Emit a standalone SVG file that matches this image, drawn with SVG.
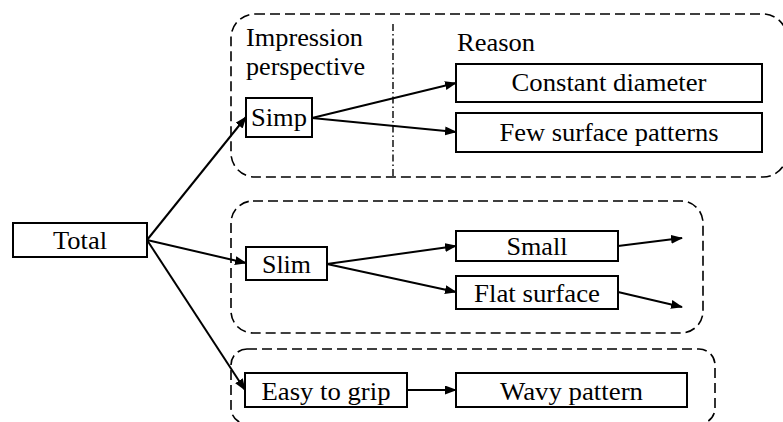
<svg xmlns="http://www.w3.org/2000/svg" width="783" height="422" viewBox="0 0 783 422" font-family="'Liberation Serif', Tinos, 'Times New Roman', Times, 'Nimbus Roman', 'Noto Serif', 'DejaVu Serif', serif">
<style>
text{font-family:'Liberation Serif',Tinos,'Times New Roman',Times,'Nimbus Roman','Noto Serif','DejaVu Serif',serif;font-size:26px;fill:#000}
.c{text-anchor:middle}
.box{fill:#fff;stroke:#000;stroke-width:2}
.grp{fill:none;stroke:#000;stroke-width:1.6;stroke-dasharray:10 5}
.dd{fill:none;stroke:#000;stroke-width:1.4;stroke-dasharray:7 3 1.5 3}
.ln{fill:none;stroke:#000;stroke-width:2;marker-end:url(#ah)}
</style>
<defs>
<marker id="ah" markerUnits="userSpaceOnUse" markerWidth="12" markerHeight="10" refX="11" refY="4.5" orient="auto">
<path d="M0,0 L12,4.5 L0,9 Z" fill="#000"/>
</marker>
</defs>
<rect id="background" width="783" height="422" fill="#fff"/>
<g id="groups">
<rect id="group-simp" class="grp" x="231" y="14" width="556" height="163" rx="24"/>
<line id="divider" class="dd" x1="393" y1="24" x2="393" y2="177"/>
<text id="label-impression" x="246" y="46" textLength="117" lengthAdjust="spacingAndGlyphs">Impression</text>
<text id="label-perspective" x="246" y="75" textLength="119" lengthAdjust="spacingAndGlyphs">perspective</text>
<text id="label-reason" x="457" y="51" textLength="78" lengthAdjust="spacingAndGlyphs">Reason</text>
<rect id="group-slim" class="grp" x="231" y="201" width="472" height="132" rx="22"/>
<rect id="group-grip" class="grp" x="231" y="349" width="484" height="75" rx="16"/>
</g>
<g id="connectors">
<line class="ln" x1="147" y1="240" x2="246" y2="117"/>
<line class="ln" x1="147" y1="240" x2="246" y2="263"/>
<line class="ln" x1="147" y1="240" x2="245" y2="390"/>
<line class="ln" x1="312" y1="118" x2="456" y2="83"/>
<line class="ln" x1="312" y1="118" x2="456" y2="132"/>
<line class="ln" x1="327" y1="264" x2="456" y2="246"/>
<line class="ln" x1="327" y1="264" x2="456" y2="292"/>
<line class="ln" x1="618" y1="246" x2="682" y2="238"/>
<line class="ln" x1="618" y1="292" x2="682" y2="307"/>
<line class="ln" x1="407" y1="390" x2="456" y2="390"/>
</g>
<g id="node-total"><rect class="box" x="13" y="223" width="134" height="34"/><text class="c" x="80" y="249" textLength="54" lengthAdjust="spacingAndGlyphs">Total</text></g>
<g id="node-simp"><rect class="box" x="246" y="98" width="66" height="39"/><text class="c" x="279" y="126" textLength="56" lengthAdjust="spacingAndGlyphs">Simp</text></g>
<g id="node-constant"><rect class="box" x="456" y="64" width="306" height="38"/><text class="c" x="609" y="91" textLength="195" lengthAdjust="spacingAndGlyphs">Constant diameter</text></g>
<g id="node-few"><rect class="box" x="456" y="113" width="306" height="39"/><text class="c" x="609" y="141" textLength="219" lengthAdjust="spacingAndGlyphs">Few surface patterns</text></g>
<g id="node-slim"><rect class="box" x="246" y="247" width="81" height="33"/><text class="c" x="286.5" y="273" textLength="49" lengthAdjust="spacingAndGlyphs">Slim</text></g>
<g id="node-small"><rect class="box" x="456" y="231" width="162" height="30"/><text class="c" x="537" y="255" textLength="61" lengthAdjust="spacingAndGlyphs">Small</text></g>
<g id="node-flat"><rect class="box" x="456" y="276" width="162" height="33"/><text class="c" x="537" y="302" textLength="126" lengthAdjust="spacingAndGlyphs">Flat surface</text></g>
<g id="node-grip"><rect class="box" x="245" y="373" width="162" height="34"/><text class="c" x="326" y="400" textLength="129" lengthAdjust="spacingAndGlyphs">Easy to grip</text></g>
<g id="node-wavy"><rect class="box" x="456" y="373" width="231" height="34"/><text class="c" x="571.5" y="400" textLength="143" lengthAdjust="spacingAndGlyphs">Wavy pattern</text></g>
</svg>
